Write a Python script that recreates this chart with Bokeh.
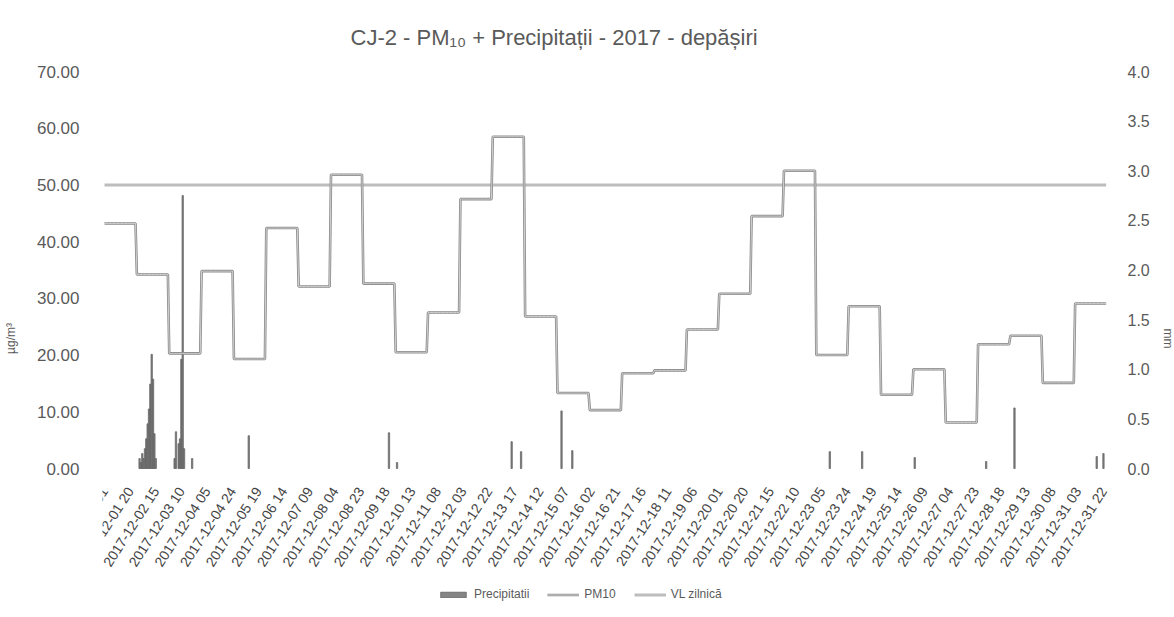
import numpy as np
from bokeh.plotting import figure
from bokeh.models import (Range1d, LinearAxis, FixedTicker, NumeralTickFormatter,
                          Legend, LegendItem)
from bokeh.embed import file_html
from bokeh.resources import INLINE

# ---------------- data ----------------
# daily PM10 averages (µg/m³), 2017-12-01 .. 2017-12-31 (shown as hourly steps)
pm10_daily = [43.2, 34.2, 20.3, 34.8, 19.3, 42.4, 32.1, 51.8, 32.6, 20.5,
              27.5, 47.5, 58.5, 26.8, 13.3, 10.3, 16.8, 17.3, 24.5, 30.8,
              44.5, 52.5, 20.0, 28.6, 13.0, 17.5, 8.1, 21.9, 23.4, 15.1, 29.1]
hours_per_day = 24

# hourly precipitation (mm): hour index since 2017-12-01 01, value
precip_hour = [26, 27, 28, 29, 30, 31, 32, 33, 34, 35, 36, 37, 38,
               52, 53, 55, 56, 57, 58, 59, 65,
               107, 211, 217, 302, 309, 339, 347,
               538, 562, 601, 654, 675, 736, 741]
precip_mm = [0.10, 0.06, 0.15, 0.10, 0.20, 0.30, 0.45, 0.60, 0.85, 1.15, 0.90, 0.35, 0.10,
             0.10, 0.37, 0.25, 0.30, 1.10, 2.75, 0.20, 0.10,
             0.33, 0.36, 0.06, 0.27, 0.17, 0.58, 0.18,
             0.17, 0.17, 0.11, 0.07, 0.61, 0.12, 0.15]

vl_daily = 50.0  # daily limit value

x_labels = ["2017-12-01 01", "2017-12-01 20", "2017-12-02 15", "2017-12-03 10",
            "2017-12-04 05", "2017-12-04 24", "2017-12-05 19", "2017-12-06 14",
            "2017-12-07 09", "2017-12-08 04", "2017-12-08 23", "2017-12-09 18",
            "2017-12-10 13", "2017-12-11 08", "2017-12-12 03", "2017-12-12 22",
            "2017-12-13 17", "2017-12-14 12", "2017-12-15 07", "2017-12-16 02",
            "2017-12-16 21", "2017-12-17 16", "2017-12-18 11", "2017-12-19 06",
            "2017-12-20 01", "2017-12-20 20", "2017-12-21 15", "2017-12-22 10",
            "2017-12-23 05", "2017-12-23 24", "2017-12-24 19", "2017-12-25 14",
            "2017-12-26 09", "2017-12-27 04", "2017-12-27 23", "2017-12-28 18",
            "2017-12-29 13", "2017-12-30 08", "2017-12-31 03", "2017-12-31 22"]
label_step_hours = 19

left_max, right_max = 70, 4
left_ticks = [0, 10, 20, 30, 40, 50, 60, 70]
right_ticks = [0.0, 0.5, 1.0, 1.5, 2.0, 2.5, 3.0, 3.5, 4.0]

# ---------------- layout (pixels) ----------------
plot_px = 397      # height of the 0..70 value band
below_px = 137     # room under the baseline for date labels and legend
frac = below_px / plot_px

# ---------------- derived ----------------
n_hours = len(pm10_daily) * hours_per_day
hours = np.arange(n_hours)
pm10_hourly = np.repeat(pm10_daily, hours_per_day)
x_ticks = [i * label_step_hours for i in range(len(x_labels))]

FONT = "Liberation Sans"
TXT = "#5a5a5a"

p = figure(frame_width=1005, frame_height=plot_px + below_px, output_backend="svg",
           toolbar_location=None,
           x_range=Range1d(-1.5, n_hours),
           y_range=Range1d(-left_max * frac, left_max),
           min_border_left=92, min_border_right=61, min_border_top=70,
           min_border_bottom=0)
p.extra_y_ranges = {"mm": Range1d(-right_max * frac, right_max)}
p.outline_line_color = None
p.grid.visible = False

p.title.text = "CJ-2 - PM\u2081\u2080 + Precipitații - 2017 - depășiri"
p.title.align = "left"
p.title.offset = 248
p.title.text_font = FONT
p.title.text_font_size = "22px"
p.title.text_font_style = "normal"
p.title.text_color = TXT
p.title.standoff = 44

bars = p.vbar(x=precip_hour, top=precip_mm, width=1.0, y_range_name="mm",
              fill_color="#858585", line_color="#5a5a5a", line_width=0.7)
vl = p.line(hours, np.full(n_hours, vl_daily), line_color="#bdbdbd", line_width=3)
pm_outer = p.line(hours, pm10_hourly, line_color="#8a8a8a", line_width=2.6)
pm_inner = p.line(hours, pm10_hourly, line_color="#e2e2e2", line_width=0.8)

# x axis drawn on the zero baseline
xa = p.xaxis[0]
xa.fixed_location = 0
xa.ticker = FixedTicker(ticks=x_ticks)
xa.major_label_overrides = {t: l for t, l in zip(x_ticks, x_labels)}
xa.major_label_orientation = 1.0
xa.axis_line_color = None
xa.major_tick_line_color = None
xa.minor_tick_line_color = None
xa.major_tick_out = 0
xa.major_tick_in = 0
xa.minor_tick_out = 0
xa.major_label_text_font = FONT
xa.major_label_text_font_size = "14px"
xa.major_label_text_color = "#444444"
xa.major_label_standoff = 20

# left axis
ly = p.yaxis[0]
ly.ticker = FixedTicker(ticks=left_ticks)
ly.formatter = NumeralTickFormatter(format="0.00")
ly.axis_label = "µg/m³"
ly.bounds = (0, left_max)
ly.major_label_standoff = 17
ly.axis_label_standoff = 16

# right axis
ry = LinearAxis(y_range_name="mm", ticker=FixedTicker(ticks=right_ticks),
                formatter=NumeralTickFormatter(format="0.0"), axis_label="mm",
                bounds=(0, right_max))
ry.major_label_standoff = 14
ry.axis_label_standoff = 8
p.add_layout(ry, "right")

for ax in (ly, ry):
    ax.axis_line_color = None
    ax.major_tick_line_color = None
    ax.minor_tick_line_color = None
    ax.major_label_text_font = FONT
    ax.major_label_text_font_size = "17px"
    ax.major_label_text_color = TXT
    ax.axis_label_text_font = FONT
    ax.axis_label_text_font_size = "12px"
    ax.axis_label_text_font_style = "normal"
    ax.axis_label_text_color = TXT
ry.major_label_text_font_size = "16px"

legend = Legend(items=[LegendItem(label="Precipitatii", renderers=[bars]),
                       LegendItem(label="PM10", renderers=[pm_outer, pm_inner]),
                       LegendItem(label="VL zilnică", renderers=[vl])],
                orientation="horizontal", location=(335, 4))
legend.border_line_color = None
legend.background_fill_alpha = 0
legend.label_text_font = FONT
legend.label_text_font_size = "12px"
legend.label_text_color = TXT
legend.glyph_width = 32
legend.glyph_height = 7
legend.label_standoff = 5
legend.spacing = 18
legend.margin = 0
legend.padding = 3
p.add_layout(legend, "center")

open("out.html", "w").write(file_html(p, INLINE))
